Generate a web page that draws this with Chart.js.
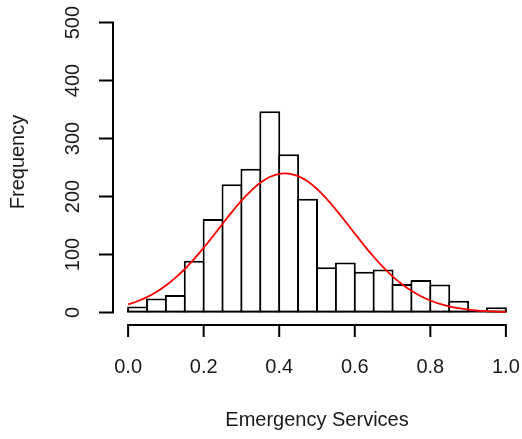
<!DOCTYPE html>
<html><head><meta charset="utf-8">
<script src="https://cdn.jsdelivr.net/npm/chart.js@4.4.1/dist/chart.umd.min.js"></script>
<style>html,body{margin:0;padding:0;background:#fff}#wrap{width:522px;height:439px}</style>
</head><body><div id="wrap"><canvas id="c" width="522" height="439"></canvas></div>
<script>
// Histogram bins (width 0.05) and counts
const binStarts = [0,0.05,0.1,0.15,0.2,0.25,0.3,0.35,0.4,0.45,0.5,0.55,0.6,0.65,0.7,0.75,0.8,0.85,0.9,0.95];
const binWidth = 0.05;
const counts = [10,24,30,89,161,221,248,347,273,196,78,86,70,74,49,56,48,20,0,9];
// Red fitted curve
const curveX = [0,0.025,0.05,0.075,0.1,0.125,0.15,0.175,0.2,0.225,0.25,0.275,0.3,0.325,0.35,0.375,0.4,0.425,0.45,0.475,0.5,
                0.525,0.55,0.575,0.6,0.625,0.65,0.675,0.7,0.725,0.75,0.775,0.8,0.825,0.85,0.875,0.9,0.925,0.95,0.975,1.0];
const curveY = [13.8,19.2,26.3,35.3,46.3,59.5,74.9,92.3,111.5,131.9,152.8,173.4,192.7,209.8,223.8,233.7,239.1,239.6,235.2,226.1,212.9,
                196.3,177.4,156.9,136,115.5,96,78.2,62.3,48.7,37.3,27.9,20.5,14.8,10.4,7.2,4.8,3.2,2.1,1.3,0.8];
// Axes
const xTicks = [0,0.2,0.4,0.6,0.8,1.0];
const xTickLabels = ["0.0","0.2","0.4","0.6","0.8","1.0"];
const yTicks = [0,100,200,300,400,500];
const yTickLabels = ["0","100","200","300","400","500"];
const xTitle = "Emergency Services";
const yTitle = "Frequency";

const FONT = '20px "Liberation Sans", Arial, sans-serif';
const TXT = '#1a1a1a';

const axesPlugin = {
  id: 'rAxes',
  afterDraw(chart) {
    const ctx = chart.ctx, xs = chart.scales.x, ys = chart.scales.y, ca = chart.chartArea;
    ctx.save();
    ctx.strokeStyle = '#000'; ctx.lineWidth = 2; ctx.lineCap = 'butt';
    // x axis
    const ax = ca.bottom + 1;
    ctx.beginPath();
    ctx.moveTo(xs.getPixelForValue(xTicks[0]) - 1, ax);
    ctx.lineTo(xs.getPixelForValue(xTicks[xTicks.length-1]) + 1, ax);
    xTicks.forEach(v => { const p = xs.getPixelForValue(v); ctx.moveTo(p, ax - 1); ctx.lineTo(p, ax + 12); });
    ctx.stroke();
    // y axis
    const ay = ca.left;
    ctx.beginPath();
    ctx.moveTo(ay, ys.getPixelForValue(yTicks[0]) + 1);
    ctx.lineTo(ay, ys.getPixelForValue(yTicks[yTicks.length-1]) - 1);
    yTicks.forEach(v => { const p = ys.getPixelForValue(v); ctx.moveTo(ay + 1, p); ctx.lineTo(ay - 14, p); });
    ctx.stroke();
    // labels
    ctx.fillStyle = TXT; ctx.font = FONT; ctx.textAlign = 'center'; ctx.textBaseline = 'middle';
    xTicks.forEach((v, i) => ctx.fillText(xTickLabels[i], xs.getPixelForValue(v), 367));
    ctx.fillText(xTitle, (ca.left + ca.right) / 2, 420);
    yTicks.forEach((v, i) => {
      ctx.save(); ctx.translate(73, ys.getPixelForValue(v)); ctx.rotate(-Math.PI / 2);
      ctx.fillText(yTickLabels[i], 0, 0); ctx.restore();
    });
    ctx.save(); ctx.translate(18, 162); ctx.rotate(-Math.PI / 2);
    ctx.fillText(yTitle, 0, 0); ctx.restore();
    ctx.restore();
  }
};

// baseline under every bin (R draws zero-height rectangles as lines)
const baselinePlugin = {
  id: 'baseline',
  beforeDatasetsDraw(chart) {
    const ctx = chart.ctx, xs = chart.scales.x, ys = chart.scales.y;
    ctx.save(); ctx.strokeStyle = '#000'; ctx.lineWidth = 2;
    ctx.beginPath();
    ctx.moveTo(xs.getPixelForValue(binStarts[0]) - 1, ys.getPixelForValue(0) - 1);
    ctx.lineTo(xs.getPixelForValue(binStarts[binStarts.length-1] + binWidth) + 1, ys.getPixelForValue(0) - 1);
    ctx.stroke(); ctx.restore();
  }
};

new Chart(document.getElementById('c'), {
  data: {
    datasets: [
      {
        type: 'line',
        data: curveX.map((x, i) => ({x: x, y: curveY[i]})),
        borderColor: '#ff0000', borderWidth: 1.8, pointRadius: 0,
        tension: 0.4, fill: false, order: 0
      },
      {
        type: 'bar',
        data: binStarts.map((s, i) => ({x: s + binWidth / 2, y: counts[i]})),
        backgroundColor: '#ffffff', borderColor: '#000000',
        borderWidth: {top: 2, bottom: 2, left: 2, right: 2}, borderSkipped: false,
        barPercentage: 1.106, categoryPercentage: 1, order: 1
      }
    ]
  },
  options: {
    responsive: false, devicePixelRatio: 1, animation: false,
    layout: {padding: {left: 113, right: 1, top: 11, bottom: 115}},
    plugins: {legend: {display: false}, tooltip: {enabled: false}},
    scales: {
      x: {type: 'linear', min: -0.04, max: 1.04, display: false, offset: false},
      y: {type: 'linear', min: -20, max: 520, display: false}
    }
  },
  plugins: [baselinePlugin, axesPlugin]
});
</script></body></html>
